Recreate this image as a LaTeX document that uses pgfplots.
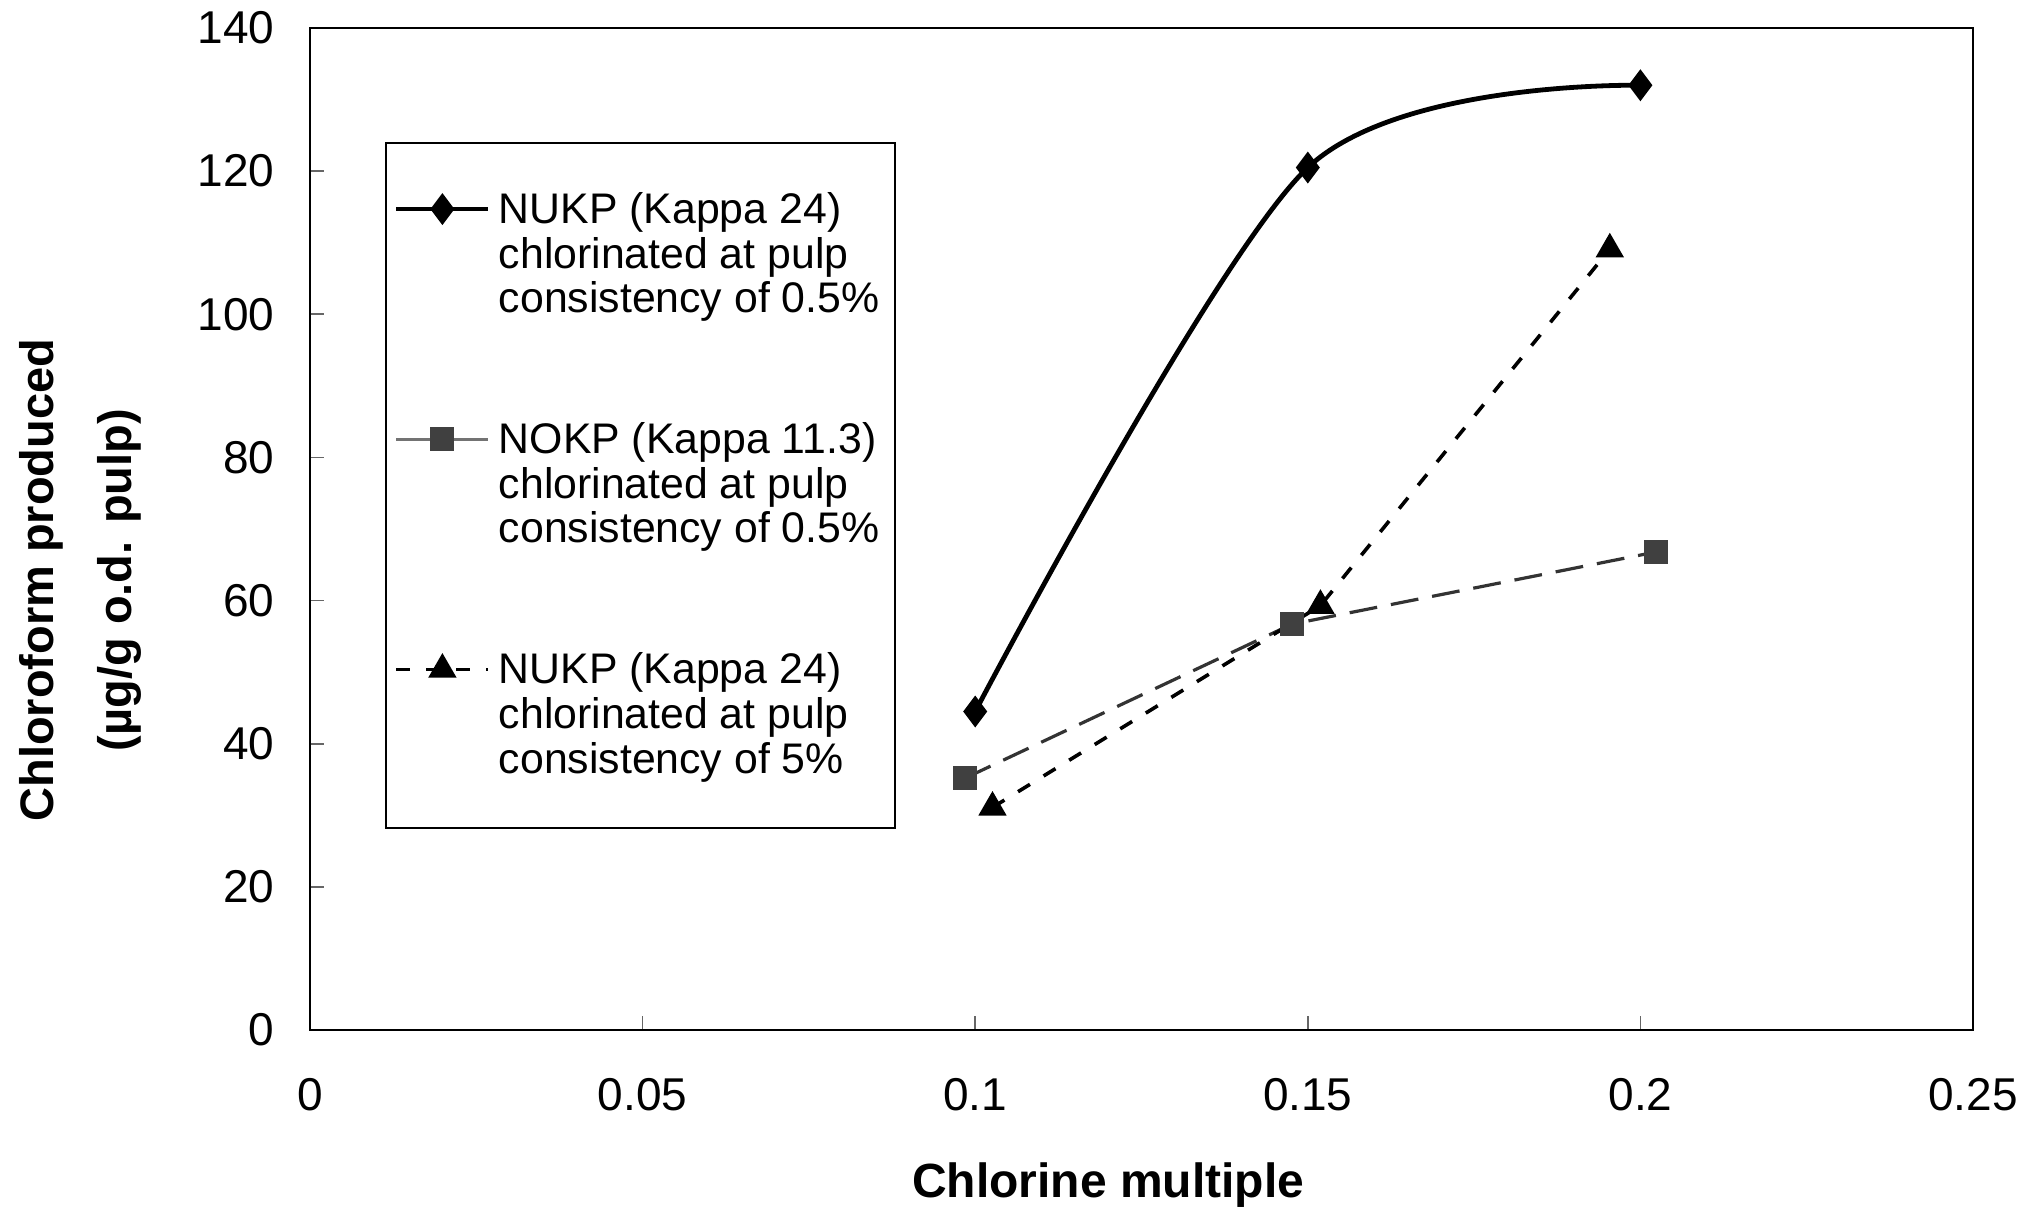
\documentclass[border=0pt]{standalone}
\usepackage{pgfplots}
\pgfplotsset{compat=1.18}
\usepackage{fontspec}
\setmainfont{Liberation Sans}
\begin{document}
\begin{tikzpicture}
\useasboundingbox (0pt,0pt) rectangle (506.5pt,-305.25pt);
\begin{axis}[
    at={(77.5pt,-257.5pt)}, anchor=south west,
    scale only axis, width=415.75pt, height=250.5pt,
    xmin=0, xmax=0.25, ymin=0, ymax=140,
    xtick={0,0.05,0.1,0.15,0.2,0.25},
    xticklabels={0,0.05,0.1,0.15,0.2,0.25},
    ytick={0,20,40,60,80,100,120,140},
    xtick pos=lower, ytick pos=left,
    tick align=inside, major tick length=3.5pt,
    tick style={black!60, line width=0.4pt},
    axis line style={line width=0.5pt},
    /pgf/number format/assume math mode=true,
    tick label style={font=\fontsize{11.5}{13.8}\selectfont},
    xticklabel style={yshift=-8.5pt},
    yticklabel style={xshift=-5.4pt},
    xlabel={Chlorine multiple},
    xlabel style={at={(axis description cs:0.48,-0.155)}, anchor=center,
        font=\fontsize{12}{14}\selectfont\bfseries},
    ylabel={Chloroform produced\\(µg/g o.d. pulp)},
    ylabel style={at={(axis description cs:-0.138,0.449)}, anchor=center,
        align=center, font=\fontsize{11.75}{19.5}\selectfont\bfseries},
    legend style={at={(0.0451,0.886)}, anchor=north west, draw=black,
        line width=0.5pt, inner xsep=2pt, inner ysep=10.3pt, row sep=22pt,
        cells={anchor=base west, align=left},
        font=\fontsize{10.7}{11.15}\selectfont},
    legend image code/.code={
        \draw[mark repeat=2, mark phase=2, yshift=25.9pt, #1]
            plot coordinates {(0pt,0pt) (11.5pt,0pt) (23pt,0pt)};},
]
\addplot[black, line width=1.2pt, smooth, mark=diamond*, mark size=3pt,
    mark options={solid}] coordinates {
    (0.1,44.5) (0.15,120.5) (0.2,132)
};
\addlegendentry{NUKP (Kappa 24)\\chlorinated at pulp\\consistency of 0.5\%}

\addplot[black!80, line width=0.8pt, dash pattern=on 7pt off 3.5pt,
    mark=square*, mark size=2.6pt, mark options={solid, fill=black!75, draw=black!75},
    legend image code/.code={
        \draw[solid, mark repeat=2, mark phase=2, yshift=25.9pt, black!55, line width=0.8pt,
            mark=square*, mark size=2.6pt, mark options={solid, fill=black!75, draw=black!75}]
            plot coordinates {(0pt,0pt) (11.5pt,0pt) (23pt,0pt)};}] coordinates {
    (0.0985,35.2) (0.1476,56.7) (0.2024,66.8)
};
\addlegendentry{NOKP (Kappa 11.3)\\chlorinated at pulp\\consistency of 0.5\%}

\addplot[black, line width=0.9pt, dash pattern=on 3.5pt off 4pt,
    mark=triangle*, mark size=3.2pt, mark options={solid}] coordinates {
    (0.1026,31.1) (0.1519,59.3) (0.1954,109.1)
};
\addlegendentry{NUKP (Kappa 24)\\chlorinated at pulp\\consistency of 5\%}
\end{axis}
\end{tikzpicture}
\end{document}
